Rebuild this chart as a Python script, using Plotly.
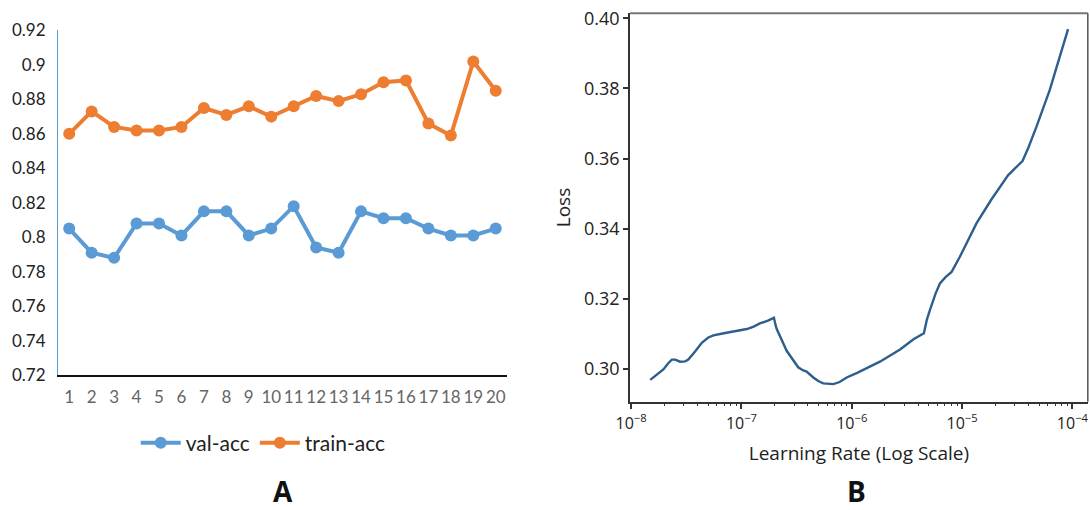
import plotly.graph_objects as go

# ---------------- Data: panel A ----------------
epochs = list(range(1, 21))
epoch_labels = [str(e) for e in epochs]
val_acc = [0.805, 0.791, 0.788, 0.808, 0.808, 0.801, 0.815, 0.815, 0.801, 0.805,
           0.818, 0.794, 0.791, 0.815, 0.811, 0.811, 0.805, 0.801, 0.801, 0.805]
train_acc = [0.860, 0.873, 0.864, 0.862, 0.862, 0.864, 0.875, 0.871, 0.876, 0.870,
             0.876, 0.882, 0.879, 0.883, 0.890, 0.891, 0.866, 0.859, 0.902, 0.885]
acc_ticks = [0.72, 0.74, 0.76, 0.78, 0.80, 0.82, 0.84, 0.86, 0.88, 0.90, 0.92]
acc_tick_labels = ["0.72", "0.74", "0.76", "0.78", "0.8", "0.82", "0.84", "0.86", "0.88", "0.9", "0.92"]

# ---------------- Data: panel B ----------------
learning_rate = [1.49e-8, 1.74e-8, 1.96e-8, 2.19e-8, 2.34e-8, 2.51e-8, 2.78e-8, 3.09e-8, 3.30e-8, 3.80e-8,
                 4.37e-8, 5.01e-8, 5.57e-8, 6.92e-8, 8.45e-8, 1.12e-7, 1.29e-7, 1.47e-7, 1.74e-7, 1.97e-7,
                 2.04e-7, 2.09e-7, 2.57e-7, 2.95e-7, 3.27e-7, 3.63e-7, 3.90e-7, 4.48e-7, 5.01e-7, 5.52e-7,
                 6.81e-7, 7.76e-7, 9.00e-7, 1.12e-6, 1.36e-6, 1.80e-6, 2.74e-6, 3.63e-6, 4.51e-6, 4.79e-6,
                 5.11e-6, 5.75e-6, 6.30e-6, 7.08e-6, 8.04e-6, 9.55e-6, 1.35e-5, 1.85e-5, 2.62e-5, 3.53e-5,
                 3.98e-5, 4.73e-5, 6.24e-5, 9.14e-5]
loss = [0.2969, 0.2985, 0.2999, 0.3018, 0.3027, 0.3027, 0.3021, 0.3022, 0.3027, 0.3050,
        0.3075, 0.3090, 0.3096, 0.3102, 0.3107, 0.3114, 0.3121, 0.3130, 0.3138, 0.3146,
        0.3125, 0.3114, 0.3052, 0.3025, 0.3005, 0.2996, 0.2993, 0.2976, 0.2965, 0.2959,
        0.2957, 0.2963, 0.2976, 0.2989, 0.3002, 0.3021, 0.3056, 0.3085, 0.3102, 0.3140,
        0.3168, 0.3215, 0.3244, 0.3262, 0.3277, 0.3320, 0.3415, 0.3484, 0.3553, 0.3593,
        0.3630, 0.3691, 0.3796, 0.3969]
loss_ticks = [0.30, 0.32, 0.34, 0.36, 0.38, 0.40]
loss_tick_labels = ["0.30", "0.32", "0.34", "0.36", "0.38", "0.40"]
lr_major = [1e-8, 1e-7, 1e-6, 1e-5, 1e-4]
lr_major_labels = ["10<sup>\u22128</sup>", "10<sup>\u22127</sup>", "10<sup>\u22126</sup>",
                   "10<sup>\u22125</sup>", "10<sup>\u22124</sup>"]
lr_minor = [m * d for d in [1e-8, 1e-7, 1e-6, 1e-5] for m in range(2, 10)]

BLUE = "#5B9BD5"
ORANGE = "#ED7D31"
LINE_B = "#2E5E8C"
FONT_A = "Lato"
FONT_B = "Open Sans"

fig = go.Figure()

fig.add_trace(go.Scatter(
    x=epochs, y=val_acc, name="val-acc", mode="lines+markers",
    line=dict(color=BLUE, width=4), marker=dict(color=BLUE, size=12),
    xaxis="x", yaxis="y"))
fig.add_trace(go.Scatter(
    x=epochs, y=train_acc, name="train-acc", mode="lines+markers",
    line=dict(color=ORANGE, width=4), marker=dict(color=ORANGE, size=12),
    xaxis="x", yaxis="y"))
fig.add_trace(go.Scatter(
    x=learning_rate, y=loss, name="loss", mode="lines", showlegend=False,
    line=dict(color=LINE_B, width=2.4), xaxis="x2", yaxis="y2"))

fig.update_layout(
    width=1090, height=510,
    margin=dict(l=0, r=0, t=0, b=0, autoexpand=False),
    paper_bgcolor="white", plot_bgcolor="white",
    showlegend=True,
    legend=dict(orientation="h", x=0.2415, y=0.131, xanchor="center", yanchor="middle",
                font=dict(family=FONT_A, size=21, color="#222222"),
                itemwidth=40, bgcolor="rgba(0,0,0,0)"),
    xaxis=dict(
        domain=[0.0532, 0.4651], range=[0.5, 20.5], automargin=False,
        tickmode="array", tickvals=epochs, ticktext=epoch_labels,
        showgrid=False, zeroline=False, showline=True, linecolor="#111111", linewidth=1.5,
        ticks="", tickfont=dict(family=FONT_A, size=17, color="#666666"), ticklabelstandoff=6,
        anchor="y"),
    yaxis=dict(
        domain=[0.2647, 0.9402], range=[0.72, 0.92], automargin=False,
        tickmode="array", tickvals=acc_ticks, ticktext=acc_tick_labels,
        showgrid=False, zeroline=False, showline=True, linecolor=BLUE, linewidth=1,
        ticks="", tickfont=dict(family=FONT_A, size=17, color="#222222"), ticklabelstandoff=8,
        anchor="x"),
    xaxis2=dict(
        domain=[0.578, 0.998], type="log", range=[-8.01, -3.86], automargin=False,
        tickmode="array", tickvals=lr_major, ticktext=lr_major_labels,
        showgrid=False, zeroline=False, showline=True, linecolor="#333333", linewidth=1.5,
        ticks="outside", ticklen=6, tickwidth=1.5, tickcolor="#333333",
        minor=dict(tickmode="array", tickvals=lr_minor, ticks="outside", ticklen=3,
                   tickwidth=1.2, tickcolor="#333333", showgrid=False),
        tickfont=dict(family=FONT_B, size=16, color="#222222"),
        title=dict(text="Learning Rate (Log Scale)", font=dict(family=FONT_B, size=19, color="#222222"),
                   standoff=14),
        anchor="y2"),
    yaxis2=dict(
        domain=[0.2124, 0.9739], range=[0.2907, 0.4014], automargin=False,
        tickmode="array", tickvals=loss_ticks, ticktext=loss_tick_labels,
        showgrid=False, zeroline=False, showline=True, linecolor="#333333", linewidth=1.5,
        ticks="outside", ticklen=5, tickwidth=1.5, tickcolor="#333333",
        tickfont=dict(family=FONT_B, size=18, color="#222222"),
        title=dict(text="Loss", font=dict(family=FONT_B, size=19, color="#222222"), standoff=8),
        anchor="x2"),
    shapes=[
        dict(type="line", xref="x2 domain", yref="y2 domain", x0=0, x1=1, y0=1, y1=1,
             line=dict(color="#777777", width=2)),
        dict(type="line", xref="x2 domain", yref="y2 domain", x0=1, x1=1, y0=0, y1=1,
             line=dict(color="#555555", width=1.5)),
    ],
    annotations=[
        dict(text="<b>A</b>", x=283 / 1090, y=(510 - 491) / 510, xref="paper", yref="paper",
             showarrow=False, xanchor="center", yanchor="middle",
             font=dict(family="Open Sans", size=28, color="#111111")),
        dict(text="<b>B</b>", x=856 / 1090, y=(510 - 491) / 510, xref="paper", yref="paper",
             showarrow=False, xanchor="center", yanchor="middle",
             font=dict(family="Open Sans", size=28, color="#111111")),
    ],
)

fig.write_html(
    "out.html",
    config={"displayModeBar": False},
    post_script="document.body.style.margin='0';document.body.style.overflow='hidden';",
)
